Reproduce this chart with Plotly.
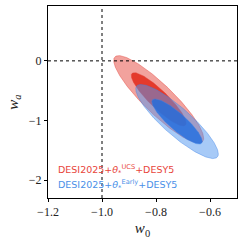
import numpy as np
import plotly.graph_objects as go

# Contour parameters: centre, sigma_w0, sigma_wa, correlation
series_names = ["DESI2025+θ*UCS+DESY5", "DESI2025+θ*Early+DESY5"]
center_w0 = [-0.790, -0.722]
center_wa = [-0.645, -1.017]
sigma_w0 = [0.0670, 0.0615]
sigma_wa = [0.2950, 0.2500]
rho = [-0.89, -0.875]
levels_dchi2 = [6.18, 2.30]  # 2-sigma (outer), 1-sigma (inner)

x_ticks = [-1.2, -1.0, -0.8, -0.6]
x_ticktext = ["−1.2", "−1.0", "−0.8", "−0.6"]
y_ticks = [0, -1, -2]
y_ticktext = ["0", "−1", "−2"]

fills = [
    ["rgba(230,70,60,0.5)", "rgba(225,35,20,0.82)"],
    ["rgba(80,150,240,0.5)", "rgba(30,110,225,0.8)"],
]
edges = ["rgba(225,60,50,0.7)", "rgba(60,130,230,0.7)"]
text_colors = ["#E8453A", "#4A90E8"]

t = np.linspace(0, 2 * np.pi, 300)
fig = go.Figure()
for i in range(2):
    cov = np.array([[sigma_w0[i] ** 2, rho[i] * sigma_w0[i] * sigma_wa[i]],
                    [rho[i] * sigma_w0[i] * sigma_wa[i], sigma_wa[i] ** 2]])
    L = np.linalg.cholesky(cov)
    for j, d in enumerate(levels_dchi2):
        pts = np.sqrt(d) * (L @ np.vstack([np.cos(t), np.sin(t)]))
        fig.add_trace(go.Scatter(
            x=center_w0[i] + pts[0], y=center_wa[i] + pts[1],
            mode="lines", fill="toself", fillcolor=fills[i][j],
            line=dict(color=edges[i], width=0.6),
            hoverinfo="skip", showlegend=False))

fig.add_vline(x=-1.0, line=dict(color="black", width=1, dash="dot"))
fig.add_hline(y=0, line=dict(color="black", width=1, dash="dot"))

serif = "Liberation Serif"
fig.add_annotation(xref="paper", yref="paper", x=0.04, y=0.145, xanchor="left", yanchor="middle",
                   showarrow=False,
                   text="DESI2025+<i>θ</i><sub>*</sub><sup>UCS</sup>+DESY5",
                   font=dict(family="DejaVu Sans", size=9.5, color=text_colors[0]))
fig.add_annotation(xref="paper", yref="paper", x=0.04, y=0.068, xanchor="left", yanchor="middle",
                   showarrow=False,
                   text="DESI2025+<i>θ</i><sub>*</sub><sup>Early</sup>+DESY5",
                   font=dict(family="DejaVu Sans", size=9.5, color=text_colors[1]))

fig.update_layout(
    width=245, height=245,
    margin=dict(l=48, r=8, t=6, b=47, autoexpand=False),
    paper_bgcolor="white", plot_bgcolor="white",
    xaxis=dict(range=[-1.2, -0.5], tickvals=x_ticks, ticktext=x_ticktext,
               ticks="outside", ticklen=3, tickwidth=1, tickcolor="black",
               showline=True, linecolor="black", linewidth=1, mirror=True,
               showgrid=False, zeroline=False, automargin=False,
               tickfont=dict(family=serif, size=12, color="#222"),
               title=dict(text="<i>w</i><sub>0</sub>", font=dict(family=serif, size=15, color="#222"), standoff=4)),
    yaxis=dict(range=[-2.3, 0.92], tickvals=y_ticks, ticktext=y_ticktext,
               ticks="outside", ticklen=3, tickwidth=1, tickcolor="black",
               showline=True, linecolor="black", linewidth=1, mirror=True,
               showgrid=False, zeroline=False, automargin=False,
               tickfont=dict(family=serif, size=12, color="#222"),
               title=dict(text="<i>w<sub>a</sub></i>", font=dict(family=serif, size=15, color="#222"), standoff=6)),
)
fig.write_html("out.html", config=dict(displayModeBar=False),
               post_script="document.body.style.margin='0';")
